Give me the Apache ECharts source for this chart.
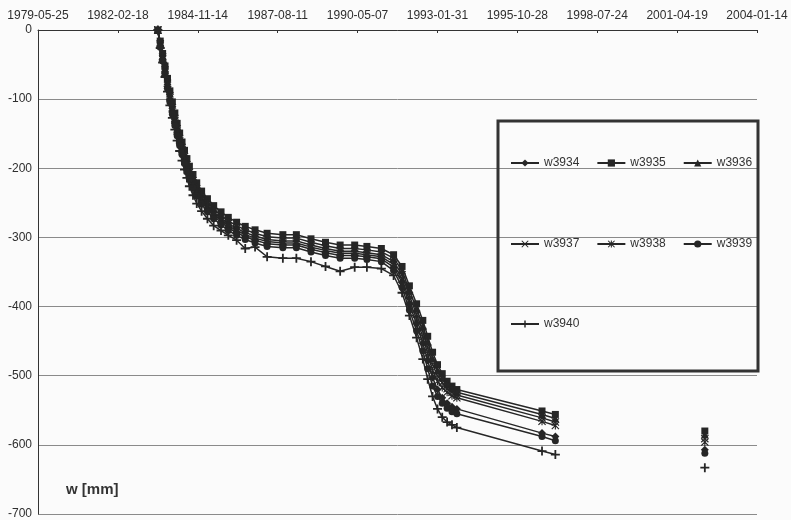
<!DOCTYPE html>
<html>
<head>
<meta charset="utf-8">
<script src="https://cdn.jsdelivr.net/npm/echarts@6/dist/echarts.min.js"></script>
<style>
html,body{margin:0;padding:0;background:#fbfbfb;}
#chart{width:791px;height:520px;}
</style>
</head>
<body>
<div id="chart"></div>
<script>
// measurement dates (a null row breaks the line between 1997 and 2002)
const dates = [
  '1983-07-03','1983-08-02','1983-09-01','1983-10-01','1983-11-01','1983-12-01',
  '1984-01-01','1984-02-01','1984-03-01','1984-04-01','1984-05-01','1984-06-01',
  '1984-07-01','1984-08-01','1984-09-15','1984-11-01','1985-01-01','1985-03-15',
  '1985-06-01','1985-09-01','1985-12-01','1986-03-15','1986-07-01','1986-11-01',
  '1987-04-01','1987-10-15','1988-04-01','1988-10-01','1989-04-01','1989-10-01',
  '1990-04-01','1990-09-01','1991-03-01','1991-08-01','1991-11-15','1992-02-15',
  '1992-05-15','1992-08-01','1992-10-01','1992-12-01','1993-02-01','1993-04-01',
  '1993-06-01','1993-08-01','1993-10-01','1996-09-01','1997-02-15','1999-09-01',
  '2002-04-01'
];
const w3935 = [0,-16,-34,-52,-70,-88,-104,-120,-135,-149,-162,-174,-186,-197,-209,-221,-233,-244,-254,-263,-271,-278,-284,-289,-294,-296,-296,-302,-307,-311,-311,-313,-316,-325,-342,-370,-396,-420,-443,-466,-484,-497,-508,-515,-520,-551,-556,null,-580];
const w3936 = [0,-18,-37,-55,-74,-92,-108,-124,-139,-153,-166,-179,-191,-202,-214,-226,-238,-249,-259,-268,-276,-283,-289,-294,-299,-301,-301,-307,-312,-316,-316,-318,-321,-330,-348,-377,-403,-428,-451,-475,-492,-503,-513,-519,-524,-556,-562,null,-585];
const w3937 = [0,-20,-39,-58,-77,-95,-112,-128,-143,-157,-170,-183,-195,-206,-218,-230,-242,-253,-263,-272,-280,-287,-293,-298,-303,-305,-305,-311,-316,-320,-320,-322,-325,-335,-354,-384,-411,-436,-460,-484,-500,-510,-519,-524,-528,-561,-567,null,-591];
const w3938 = [0,-22,-42,-61,-80,-98,-115,-131,-146,-160,-173,-186,-198,-209,-221,-233,-245,-256,-266,-275,-283,-290,-296,-301,-306,-308,-308,-314,-319,-323,-323,-325,-328,-339,-360,-391,-418,-444,-468,-493,-508,-517,-524,-529,-532,-566,-572,null,-596];
const w3934 = [0,-23,-43,-62,-82,-101,-118,-134,-149,-163,-176,-189,-201,-212,-224,-236,-248,-259,-269,-278,-286,-293,-299,-304,-309,-311,-311,-317,-322,-326,-326,-328,-331,-343,-365,-397,-425,-453,-478,-503,-520,-532,-540,-545,-548,-583,-588,null,-607];
const w3939 = [0,-25,-45,-65,-85,-104,-122,-138,-153,-167,-180,-193,-205,-216,-228,-240,-252,-263,-273,-282,-290,-297,-303,-308,-313,-315,-315,-321,-326,-330,-330,-332,-335,-348,-372,-405,-435,-464,-490,-515,-530,-540,-547,-552,-555,-588,-594,null,-612];
const w3940 = [0,-26,-47,-68,-89,-109,-127,-144,-160,-175,-189,-202,-214,-226,-239,-251,-262,-273,-283,-290,-297,-304,-316,-314,-328,-330,-330,-335,-342,-349,-343,-343,-345,-355,-380,-413,-445,-476,-505,-530,-548,-560,-567,-571,-575,-609,-614,null,-633];

const seriesNames = ['w3934','w3935','w3936','w3937','w3938','w3939','w3940'];
const seriesValues = [w3934,w3935,w3936,w3937,w3938,w3939,w3940];
const xTickStart = '1979-05-25';
const yTicks = [0,-100,-200,-300,-400,-500,-600,-700];

const DAY = 86400000;
const base = Date.parse(xTickStart + 'T00:00:00Z');
function dayOffset(s){ return Math.round((Date.parse(s + 'T00:00:00Z') - base) / DAY); }
function fmtDay(d){
  const t = new Date(base + d * DAY);
  const p = n => (n < 10 ? '0' : '') + n;
  return t.getUTCFullYear() + '-' + p(t.getUTCMonth() + 1) + '-' + p(t.getUTCDate());
}

const symX = 'path://M0,1L1,0L5,4L9,0L10,1L6,5L10,9L9,10L5,6L1,10L0,9L4,5Z';
const symAst = 'path://M0,1L1,0L5,4L9,0L10,1L6,5L10,9L9,10L5,6L1,10L0,9L4,5ZM4.3,0L5.7,0L5.7,10L4.3,10Z';
const symPlus = 'path://M4,0L6,0L6,4L10,4L10,6L6,6L6,10L4,10L4,6L0,6L0,4L4,4Z';
const symbols = ['diamond','rect','triangle',symX,symAst,'circle',symPlus];
const sizes = [8,7,8,8,8,7,9];
const ink = '#262626';

const series = seriesNames.map((name, k) => ({
  name: name,
  type: 'line',
  data: dates.map((d, i) => [dayOffset(d), seriesValues[k][i]]),
  symbol: symbols[k],
  symbolSize: sizes[k],
  showAllSymbol: true,
  connectNulls: false,
  lineStyle: { color: ink, width: 1.5 },
  itemStyle: { color: ink },
  emphasis: { disabled: true },
  animation: false
}));

function legendRow(names, top){
  return {
    data: names, left: 510, top: top, orient: 'horizontal', padding: 0,
    itemWidth: 28, itemHeight: 9, itemGap: 17,
    textStyle: { fontFamily: 'Liberation Sans, Arial', fontSize: 12, color: '#333' },
    selectedMode: false
  };
}

const chart = echarts.init(document.getElementById('chart'), null, { renderer: 'canvas' });
chart.setOption({
  backgroundColor: '#fbfbfb',
  animation: false,
  title: {
    text: 'w [mm]', left: 61, top: 477,
    textStyle: { fontFamily: 'Liberation Sans, Arial', fontSize: 15, fontWeight: 'bold', color: '#333' }
  },
  grid: { left: 38, right: 34, top: 30, bottom: 5, containLabel: false },
  xAxis: {
    type: 'value', position: 'top', min: 0, max: 9000, interval: 1000,
    axisLine: { show: true, lineStyle: { color: '#333', width: 1 } },
    axisTick: { show: true, inside: true, length: 3, lineStyle: { color: '#333' } },
    axisLabel: { formatter: v => fmtDay(v), fontFamily: 'Liberation Sans, Arial', fontSize: 12, color: '#2e2e2e', margin: 8 },
    splitLine: { show: false }
  },
  yAxis: {
    type: 'value', min: yTicks[yTicks.length - 1], max: yTicks[0], interval: 100,
    axisLine: { show: true, lineStyle: { color: '#333', width: 1 } },
    axisTick: { show: false },
    axisLabel: { fontFamily: 'Liberation Sans, Arial', fontSize: 12, color: '#2e2e2e', margin: 6 },
    splitLine: { show: true, lineStyle: { color: '#8a8a8a', width: 1 } }
  },
  legend: [
    legendRow(['w3934','w3935','w3936'], 157),
    legendRow(['w3937','w3938','w3939'], 238),
    legendRow(['w3940'], 318)
  ],
  graphic: [{
    type: 'rect', z: 100,
    shape: { x: 498, y: 121, width: 260, height: 250 },
    style: { fill: 'rgba(0,0,0,0)', stroke: '#333', lineWidth: 3 }
  }],
  series: series
});
</script>
</body>
</html>
